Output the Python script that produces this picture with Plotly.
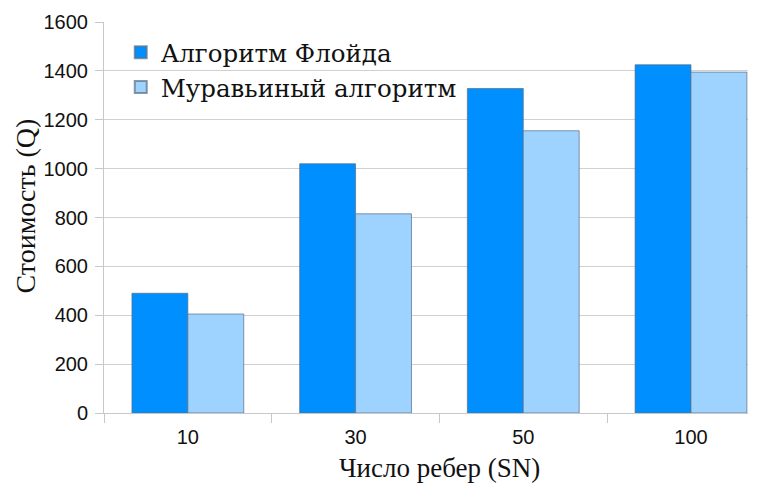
import plotly.graph_objects as go

categories = ["10", "30", "50", "100"]
floyd = [490, 1020, 1328, 1425]
ant = [405, 815, 1155, 1395]
series_names = ["Алгоритм Флойда", "Муравьиный алгоритм"]
y_ticks = [0, 200, 400, 600, 800, 1000, 1200, 1400, 1600]

fig = go.Figure()
fig.add_trace(go.Bar(x=categories, y=floyd, name=series_names[0],
                     marker=dict(color="#008FFF", line=dict(color="rgba(90,110,130,0.7)", width=1))))
fig.add_trace(go.Bar(x=categories, y=ant, name=series_names[1],
                     marker=dict(color="#9ED2FF", line=dict(color="rgba(90,110,130,0.7)", width=1))))

# page body has an 8px margin, so the figure is sized/margined to compensate
fig.update_layout(
    width=755, height=478,
    margin=dict(l=96, r=15, t=14, b=73, autoexpand=False),
    paper_bgcolor="white", plot_bgcolor="white",
    barmode="group", bargap=1/3, bargroupgap=0,
    showlegend=True,
    legend=dict(x=0.026, y=0.98, xanchor="left", yanchor="top",
                bgcolor="rgba(0,0,0,0)",
                font=dict(family="DejaVu Serif", size=24.5, color="#111"),
                tracegroupgap=0, itemsizing="constant"),
    xaxis=dict(type="category", range=[-0.5, 3.34], tickson="boundaries",
               ticks="outside", ticklen=9, tickcolor="#c8c8c8",
               showgrid=False, showline=True, linecolor="#c8c8c8", linewidth=1,
               tickfont=dict(family="Liberation Sans", size=20, color="#111"),
               ticklabelstandoff=6, automargin=False,
               zeroline=False),
    yaxis=dict(range=[0, 1600], tickvals=y_ticks, ticks="outside", ticklen=8,
               tickcolor="#c8c8c8", showgrid=True, gridcolor="#d0d0d0",
               showline=True, linecolor="#c8c8c8",
               tickfont=dict(family="Liberation Sans", size=20, color="#111"),
               ticklabelstandoff=3, automargin=False,
               zeroline=False),
    annotations=[
        dict(text="Число ребер (SN)", xref="x", yref="paper", x=1.5, y=0,
             yshift=-55, xanchor="center", yanchor="middle", showarrow=False,
             font=dict(family="Liberation Serif", size=27, color="#111")),
        dict(text="Стоимость (Q)", xref="paper", yref="paper", x=0, y=0.5,
             xshift=-79, yshift=11, xanchor="center", yanchor="middle",
             textangle=-90, showarrow=False,
             font=dict(family="Liberation Serif", size=28, color="#111")),
    ],
)

fig.write_html("out.html")
